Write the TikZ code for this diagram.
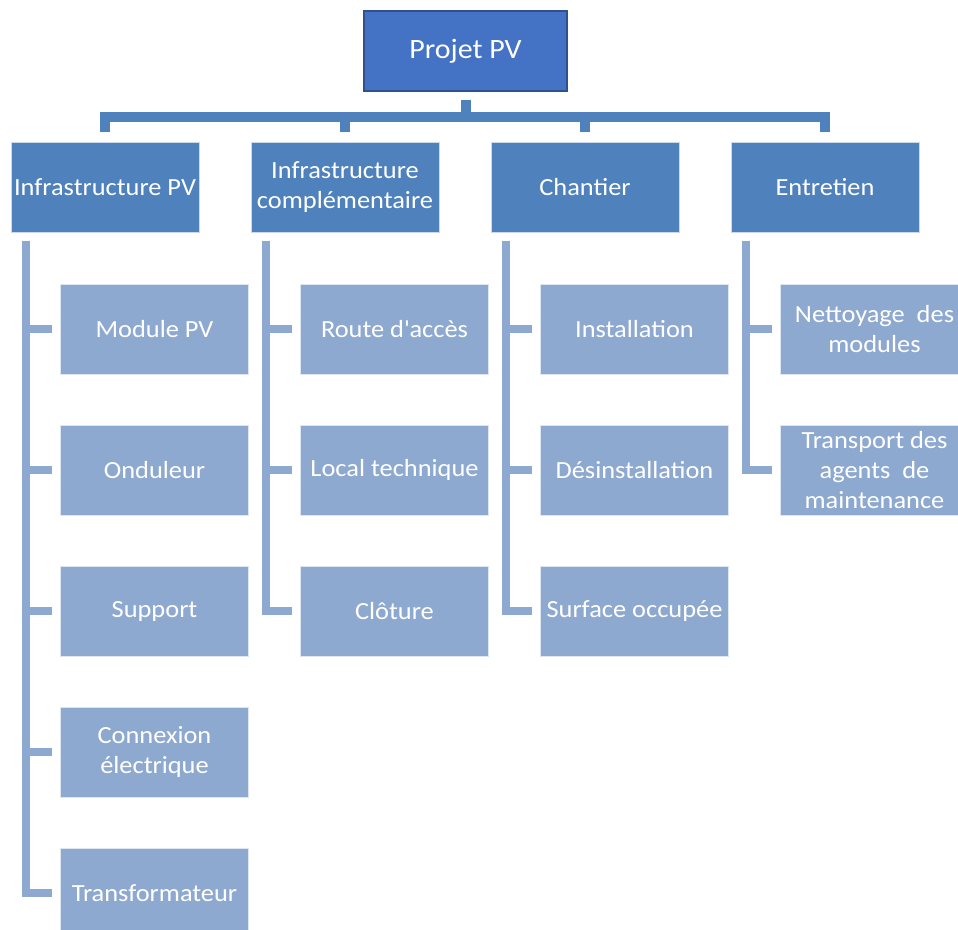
\documentclass[tikz,border=0pt]{standalone}
\usepackage{fontspec}
\setmainfont{Carlito}[FakeStretch=1.07]
\usetikzlibrary{calc}
\definecolor{rootfill}{RGB}{68,114,196}
\definecolor{rootdraw}{RGB}{47,82,143}
\definecolor{lvlone}{RGB}{79,129,189}
\definecolor{lvltwo}{RGB}{142,169,208}
\definecolor{connone}{RGB}{79,129,189}
\definecolor{conntwo}{RGB}{142,169,208}
\tikzset{
  rootbox/.style={draw=rootdraw, line width=1.5pt, fill=rootfill, text=white,
    minimum width=152.25pt, minimum height=60pt, inner sep=0pt, outer sep=0pt,
    font=\fontsize{21}{25}\selectfont},
  onebox/.style={draw=white!70!lvlone, line width=0.6pt, fill=lvlone, text=white, align=center,
    minimum width=141pt, minimum height=67.5pt, inner sep=0pt, outer sep=0pt,
    font=\fontsize{18.5}{22.5}\selectfont},
  twobox/.style={draw=white!70!lvltwo, line width=0.6pt, fill=lvltwo, text=white, align=center,
    minimum width=141pt, minimum height=67.5pt, inner sep=0pt, outer sep=0pt,
    font=\fontsize{18.5}{22.5}\selectfont},
  connA/.style={draw=connone, line width=7.5pt, line join=miter},
  connB/.style={draw=conntwo, line width=6pt, line join=miter}
}
\begin{document}
\begin{tikzpicture}[x=0.75pt, y=-0.75pt]
\clip (0,0) rectangle (958,930);
\useasboundingbox (0,0) rectangle (958,930);
\fill[white] (0,0) rectangle (958,930);

\node[rootbox] (root) at (465.5,51) {Projet PV};

\node[onebox] (la) at (105,187) {Infrastructure PV};
\node[onebox] (lb) at (345,187) {Infrastructure\\complémentaire};
\node[onebox] (lc) at (585,187) {Chantier};
\node[onebox] (ld) at (825,187) {Entretien};

\node[twobox] (a1) at (154.5,329) {Module PV};
\node[twobox] (a2) at (154.5,470) {Onduleur};
\node[twobox] (a3) at (154.5,611) {Support};
\node[twobox] (a4) at (154.5,752) {Connexion\\électrique};
\node[twobox] (a5) at (154.5,893) {Transformateur};

\node[twobox] (b1) at (394.5,329) {Route d\textquotesingle accès};
\node[twobox] (b2) at (394.5,470) {Local technique};
\node[twobox] (b3) at (394.5,611) {Clôture};

\node[twobox] (c1) at (634.5,329) {Installation};
\node[twobox] (c2) at (634.5,470) {Désinstallation};
\node[twobox] (c3) at (634.5,611) {Surface occupée};

\node[twobox] (d1) at (874.5,329) {Nettoyage\ \ des\\modules};
\node[twobox] (d2) at (874.5,470) {Transport des\\agents\ \ de\\maintenance};

% top connectors
\foreach \t in {la,lb,lc,ld}{
  \draw[connA] ($(root.south)+(0,9)$) -- ++(0,17) -| ($(\t.north)+(0,-10)$);
}

% second level connectors
\foreach \p/\c in {la/a1,la/a2,la/a3,la/a4,la/a5,lb/b1,lb/b2,lb/b3,lc/c1,lc/c2,lc/c3,ld/d1,ld/d2}{
  \draw[connB] ($(\p.south west)+(15,9)$) |- ($(\c.west)+(-9,0)$);
}
\end{tikzpicture}
\end{document}
